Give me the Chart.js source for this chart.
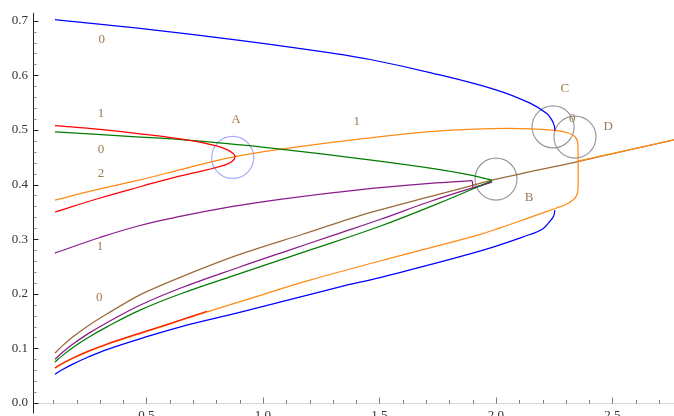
<!DOCTYPE html>
<html>
<head>
<meta charset="utf-8">
<script src="https://cdn.jsdelivr.net/npm/chart.js@4.4.0/dist/chart.umd.min.js"></script>
<style>
  html, body { margin: 0; padding: 0; background: #fff; overflow: hidden; }
  #wrap { position: relative; width: 674px; height: 416px; }
  canvas { display: block; }
</style>
</head>
<body>
<div id="wrap"><canvas id="myChart"></canvas></div>
<script>
    // axis ticks
    var xTicks = [0.5, 1.0, 1.5, 2.0, 2.5];
    var yTicks = [0.0, 0.1, 0.2, 0.3, 0.4, 0.5, 0.6, 0.7];

    // blue family (upper and lower branch end at the fold near C)
    var blueUpX = [0.107, 0.472, 0.90, 1.29, 1.46, 1.717, 2.003, 2.146, 2.218, 2.240, 2.250, 2.253];
    var blueUpY = [0.702, 0.686, 0.664, 0.641, 0.629, 0.605, 0.573, 0.549, 0.530, 0.518, 0.508, 0.499];
    var blueLoX = [0.107, 0.14, 0.186, 0.25, 0.33, 0.472, 0.65, 0.90, 1.33, 1.502, 1.93, 2.146, 2.20, 2.232, 2.247, 2.253];
    var blueLoY = [0.0527, 0.0612, 0.0716, 0.0842, 0.0978, 0.1175, 0.140, 0.166, 0.2127, 0.2297, 0.278, 0.3085, 0.3185, 0.333, 0.342, 0.353];

    // orange: lower branch, turn at D, upper branch back to the left
    var orangeX = [0.107, 0.14, 0.186, 0.25, 0.33, 0.472, 0.60, 0.76, 1.00, 1.19, 1.502, 1.93, 2.017, 2.15, 2.22, 2.26, 2.30, 2.332, 2.346, 2.352,
                   2.352, 2.35, 2.34, 2.315, 2.27, 2.15, 1.987, 1.717, 1.43, 1.073, 0.88, 0.68, 0.472, 0.29, 0.107];
    var orangeY = [0.0636, 0.0718, 0.0819, 0.094, 0.107, 0.127, 0.1445, 0.167, 0.1986, 0.2236, 0.260, 0.3085, 0.3206, 0.3405, 0.351, 0.357, 0.3635, 0.372, 0.380, 0.392,
                   0.465, 0.478, 0.487, 0.494, 0.4985, 0.502, 0.5024, 0.497, 0.484, 0.4645, 0.451, 0.431, 0.4085, 0.391, 0.3715];
    var orangeTailX = [2.352, 2.764];
    var orangeTailY = [0.443, 0.4818];

    // red: fold at A, plus the short lower piece
    var redX = [0.107, 0.30, 0.472, 0.687, 0.80, 0.845, 0.872, 0.880, 0.872, 0.844, 0.758, 0.60, 0.472, 0.29, 0.107];
    var redY = [0.508, 0.501, 0.493, 0.481, 0.471, 0.464, 0.457, 0.452, 0.444, 0.437, 0.4267, 0.411, 0.396, 0.374, 0.3497];
    var redLowX = [0.107, 0.14, 0.186, 0.25, 0.33, 0.472, 0.60, 0.76];
    var redLowY = [0.0645, 0.0728, 0.0829, 0.095, 0.108, 0.128, 0.1455, 0.168];

    // green: both branches end in B
    var greenUpX = [0.107, 0.472, 0.715, 0.88, 1.073, 1.43, 1.717, 1.87, 1.983];
    var greenUpY = [0.4964, 0.487, 0.480, 0.4735, 0.4649, 0.4465, 0.430, 0.419, 0.408];
    var greenLoX = [1.983, 1.75, 1.502, 1.187, 0.90, 0.65, 0.472, 0.33, 0.25, 0.186, 0.14, 0.107];
    var greenLoY = [0.407, 0.365, 0.3236, 0.278, 0.237, 0.2005, 0.170, 0.1394, 0.120, 0.1021, 0.0872, 0.075];

    // purple: lower branch into B, small hook, upper branch
    var purpleLoX = [0.107, 0.14, 0.186, 0.25, 0.33, 0.472, 0.65, 0.90, 1.10, 1.30, 1.502, 1.717, 1.983];
    var purpleLoY = [0.080, 0.0928, 0.1083, 0.127, 0.147, 0.179, 0.211, 0.249, 0.278, 0.307, 0.336, 0.369, 0.405];
    var purpleHookX = [1.983, 1.902, 1.898];
    var purpleHookY = [0.405, 0.393, 0.407];
    var purpleUpX = [1.898, 1.717, 1.43, 1.073, 0.858, 0.65, 0.472, 0.30, 0.107];
    var purpleUpY = [0.407, 0.402, 0.391, 0.373, 0.359, 0.342, 0.325, 0.303, 0.2745];

    // brown: through B and on to the right edge
    var brownX = [0.107, 0.14, 0.186, 0.25, 0.33, 0.472, 0.65, 0.90, 1.17, 1.43, 1.717, 1.888, 1.983, 2.36, 2.764];
    var brownY = [0.0915, 0.105, 0.1217, 0.1416, 0.163, 0.198, 0.231, 0.272, 0.309, 0.345, 0.378, 0.397, 0.408, 0.443, 0.4818];

    // marked regions
    var circleX = [0.870, 2.000, 2.245, 2.339];
    var circleY = [0.4496, 0.410, 0.5055, 0.487];
    var circleColors = ['#a9a9ff', '#9a9a9a', '#9a9a9a', '#9a9a9a'];

    // text annotations
    var noteText = ['0', '1', 'A', '1', 'C', '0', 'D', '0', '2', '1', '0', 'B'];
    var noteX = [0.308, 0.305, 0.884, 1.402, 2.296, 2.327, 2.482, 0.305, 0.305, 0.300, 0.297, 2.142];
    var noteY = [0.665, 0.530, 0.5195, 0.516, 0.575, 0.5205, 0.507, 0.464, 0.4205, 0.287, 0.193, 0.377];

    function pts(xs, ys) {
        return xs.map(function (x, i) { return { x: x, y: ys[i] }; });
    }

    function curve(xs, ys, color, tension) {
        return {
            data: pts(xs, ys),
            showLine: true,
            borderColor: color,
            borderWidth: 1.25,
            pointRadius: 0,
            pointHoverRadius: 0,
            tension: tension,
            fill: false
        };
    }

    var serif = "'Liberation Serif', 'DejaVu Serif', serif";

    // Mathematica-like axes: ticks point into the plot
    var axesPlugin = {
        id: 'axesPlugin',
        beforeDatasetsDraw: function (chart) {
            var ctx = chart.ctx;
            var sx = chart.scales.x, sy = chart.scales.y;
            var area = chart.chartArea;
            var y0 = Math.round(sy.getPixelForValue(0)) + 0.5;
            var ax = Math.round(area.left) + 0.5;
            ctx.save();
            ctx.lineWidth = 1;

            ctx.strokeStyle = '#d6d6d6';
            ctx.beginPath();
            ctx.moveTo(ax, y0);
            ctx.lineTo(area.right, y0);
            ctx.stroke();

            ctx.strokeStyle = '#7a7a7a';
            for (var i = 1; i <= 27; i++) {
                var px = Math.round(sx.getPixelForValue(i / 10)) + 0.5;
                var len = (i % 5 === 0) ? 6 : 3.5;
                ctx.beginPath();
                ctx.moveTo(px, y0);
                ctx.lineTo(px, y0 - len);
                ctx.stroke();
            }

            ctx.strokeStyle = '#222';
            ctx.beginPath();
            ctx.moveTo(ax, area.top);
            ctx.lineTo(ax, y0 + 10);
            ctx.stroke();
            for (var j = 0; j <= 35; j++) {
                var py = Math.round(sy.getPixelForValue(j / 50)) + 0.5;
                var major = (j % 5 === 0);
                ctx.strokeStyle = major ? '#222' : '#8a8a8a';
                ctx.beginPath();
                ctx.moveTo(ax, py);
                ctx.lineTo(ax + (major ? 5 : 3), py);
                ctx.stroke();
            }
            ctx.restore();
        },
        afterDatasetsDraw: function (chart) {
            var ctx = chart.ctx;
            var sx = chart.scales.x, sy = chart.scales.y;
            ctx.save();
            ctx.font = '13px ' + serif;
            ctx.fillStyle = '#9c7b4f';
            ctx.textAlign = 'center';
            ctx.textBaseline = 'middle';
            for (var i = 0; i < noteText.length; i++) {
                ctx.fillText(noteText[i], sx.getPixelForValue(noteX[i]), sy.getPixelForValue(noteY[i]));
            }
            ctx.restore();
        }
    };

    var datasets = [
        curve(redLowX, redLowY, '#ff1a00', 0.4),
        curve(orangeTailX, orangeTailY, '#ff8a14', 0),
        curve(redX, redY, '#ff0000', 0.4),
        curve(blueUpX, blueUpY, '#0000ff', 0.4),
        curve(blueLoX, blueLoY, '#0000ff', 0.4),
        curve(greenUpX, greenUpY, '#007d00', 0.4),
        curve(greenLoX, greenLoY, '#007d00', 0.4),
        curve(purpleHookX, purpleHookY, '#8a1a8a', 0),
        curve(purpleUpX, purpleUpY, '#8a1a8a', 0.4),
        curve(purpleLoX, purpleLoY, '#8a1a8a', 0.4),
        curve(orangeX, orangeY, '#ff8a14', 0.4),
        curve(brownX, brownY, '#9c6a3a', 0.3),
        {
            data: pts(circleX, circleY),
            showLine: false,
            pointRadius: 21,
            pointHoverRadius: 21,
            pointBorderWidth: 1.2,
            pointBorderColor: circleColors,
            pointBackgroundColor: 'rgba(0,0,0,0)'
        }
    ];

    const ctx = document.getElementById('myChart').getContext('2d');
    var myChart = new Chart(ctx, {
        type: 'scatter',
        data: { datasets: datasets },
        options: {
            responsive: true,
            maintainAspectRatio: false,
            animation: false,
            events: [],
            layout: { autoPadding: false, padding: { top: 10, right: 0, bottom: 0, left: 0 } },
            plugins: {
                legend: { display: false },
                tooltip: { enabled: false }
            },
            scales: {
                x: {
                    type: 'linear',
                    min: 0.0129,
                    max: 2.764,
                    grid: { display: false, drawTicks: false },
                    border: { display: false },
                    afterBuildTicks: function (s) {
                        s.ticks = xTicks.map(function (v) { return { value: v }; });
                    },
                    afterFit: function (s) { s.height = 13; },
                    ticks: {
                        padding: 5,
                        autoSkip: false,
                        maxRotation: 0,
                        color: '#333',
                        font: { family: serif, size: 13 },
                        callback: function (v) { return Number(v).toFixed(1); }
                    }
                },
                y: {
                    type: 'linear',
                    min: 0,
                    max: 0.7145,
                    grid: { display: false, drawTicks: false },
                    border: { display: false },
                    afterBuildTicks: function (s) {
                        s.ticks = yTicks.map(function (v) { return { value: v }; });
                    },
                    afterFit: function (s) { s.width = 33; },
                    ticks: {
                        padding: 5,
                        autoSkip: false,
                        color: '#333',
                        font: { family: serif, size: 13 },
                        callback: function (v) { return Number(v).toFixed(1); }
                    }
                }
            }
        },
        plugins: [axesPlugin]
    });
</script>
</body>
</html>
